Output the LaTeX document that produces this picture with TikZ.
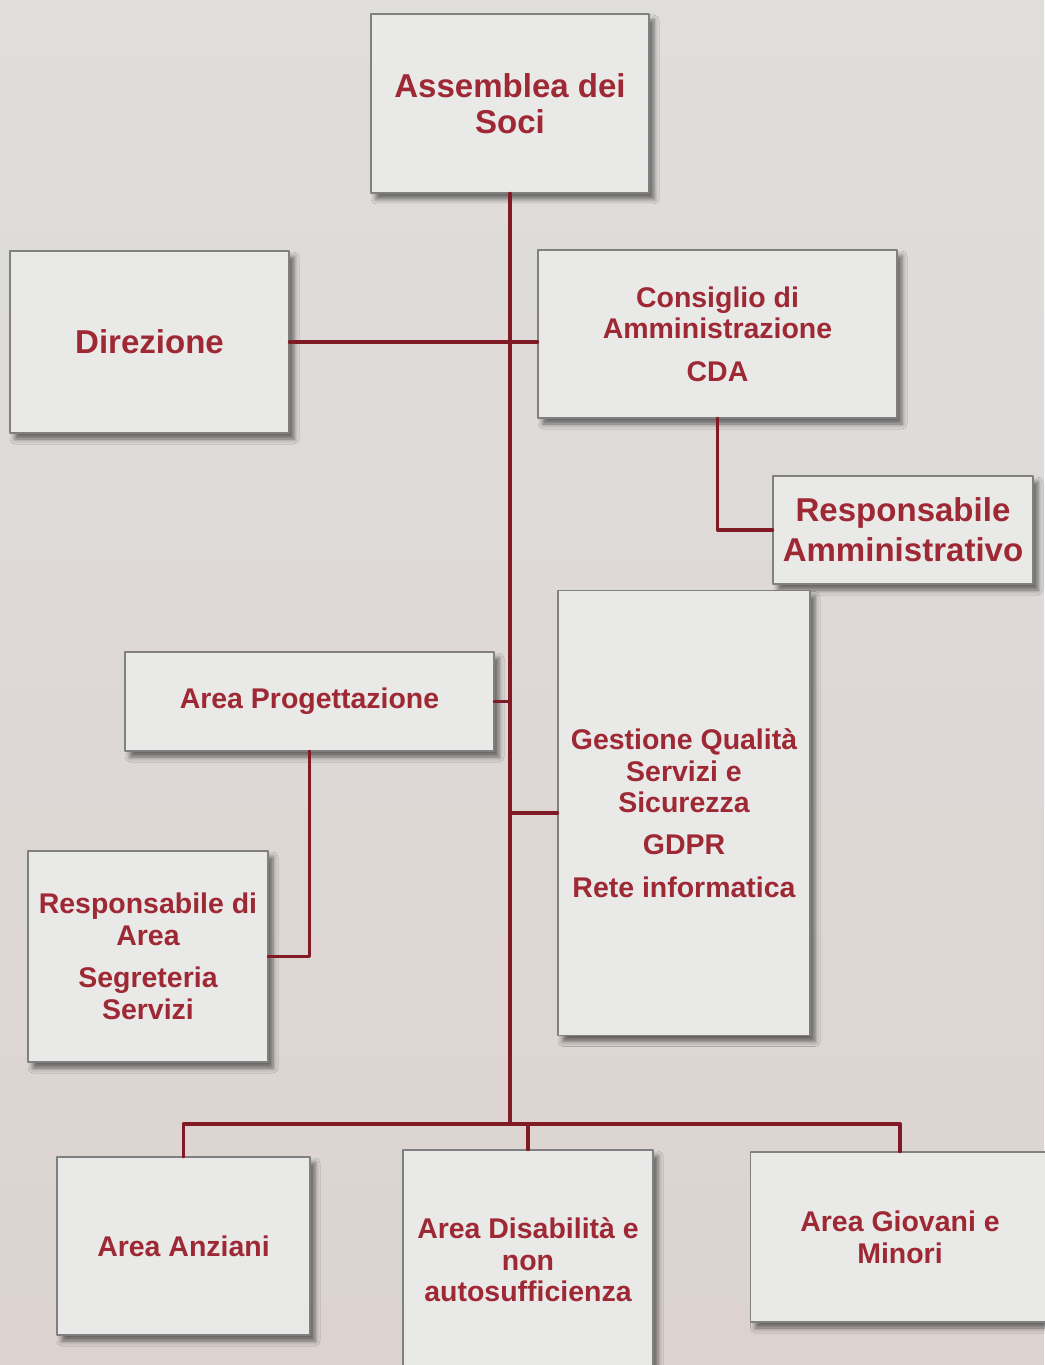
\documentclass[tikz,border=0pt]{standalone}
\usepackage{fontspec}
\setmainfont{Liberation Sans}
\usetikzlibrary{shadows.blur}
\definecolor{txtred}{RGB}{158,40,52}
\definecolor{linkred}{RGB}{128,26,36}
\definecolor{boxgray}{RGB}{233,233,231}
\definecolor{bgtop}{RGB}{223,222,219}
\definecolor{bgbot}{RGB}{220,211,208}
\tikzset{
  orgbox/.style={draw=black!50, line width=0.4pt, fill=boxgray, text=txtred, align=center, inner sep=0pt,
    blur shadow={shadow xshift=0.5mm, shadow yshift=-0.6mm, shadow blur radius=0.5mm, shadow opacity=55}},
  boxsize/.style 2 args={minimum width=#1*0.1mm, minimum height=#2*0.1mm},
  big/.style={font=\fontsize{9.4}{10.2}\selectfont\bfseries},
  small/.style={font=\fontsize{8.1}{9}\selectfont\bfseries},
  link/.style={draw=linkred, line width=1.1pt},
  inner/.style={draw=black!9, dashed, line width=0.2pt}
}
\begin{document}
\begin{tikzpicture}[x=0.1mm, y=-0.1mm, line join=round, line cap=round]
	\useasboundingbox (0,0) rectangle (1044,1365);
	\shade[top color=bgtop, bottom color=bgbot] (0,0) rectangle (1044,1365);
	% boxes
	\node[orgbox, big, boxsize={278}{179}] (soci) at (510,103.5) {Assemblea dei\\Soci};
	\node[orgbox, big, boxsize={279}{182}] (direz) at (149.5,342) {Direzione};
	\node[orgbox, small, boxsize={359}{168}] (cda) at (717.5,334) {Consiglio di\\Amministrazione\\[3pt]CDA};
	\node[orgbox, font=\fontsize{9.4}{11.3}\selectfont\bfseries, boxsize={260}{108}] (ramm) at (903,530) {Responsabile\\Amministrativo};
	\node[orgbox, small, boxsize={369}{99}] (prog) at (309.5,701.5) {Area Progettazione};
	\node[orgbox, small, boxsize={252}{445}] (qual) at (684,813) {Gestione Qualità\\Servizi e\\Sicurezza\\[3pt]GDPR\\[3pt]Rete informatica};
	\node[orgbox, small, boxsize={240}{211}] (resp) at (148,956.5) {Responsabile di\\Area\\[3pt]Segreteria\\Servizi};
	\node[orgbox, small, boxsize={253}{178}] (anz) at (183.5,1246) {Area Anziani};
	\node[orgbox, small, boxsize={250}{220}] (dis) at (528,1260) {Area Disabilità e\\non\\autosufficienza};
	\node[orgbox, small, boxsize={299}{170}] (giov) at (900,1237) {Area Giovani e\\Minori};
	\foreach \n in {soci,direz,cda,ramm,prog,qual,resp,anz,dis,giov}
		\draw[inner] ([shift={(9,9)}]\n.north west) rectangle ([shift={(-9,-9)}]\n.south east);
	% connectors
	\coordinate (bj) at (510,1124);
	\draw[link] (soci.south) -- (bj);
	\draw[link] (direz.east) -- (direz.east -| cda.west);
	\draw[link] (cda.south) |- (ramm.west);
	\draw[link] (prog.east) -- (prog.east -| bj);
	\draw[link] (qual.west) -- (qual.west -| bj);
	\draw[link] (prog.south) |- (resp.east);
	\draw[link] (anz.north) -- (anz.north |- bj) -- (giov.north |- bj) -- (giov.north);
	\draw[link] (dis.north) -- (dis.north |- bj);
\end{tikzpicture}
\end{document}
